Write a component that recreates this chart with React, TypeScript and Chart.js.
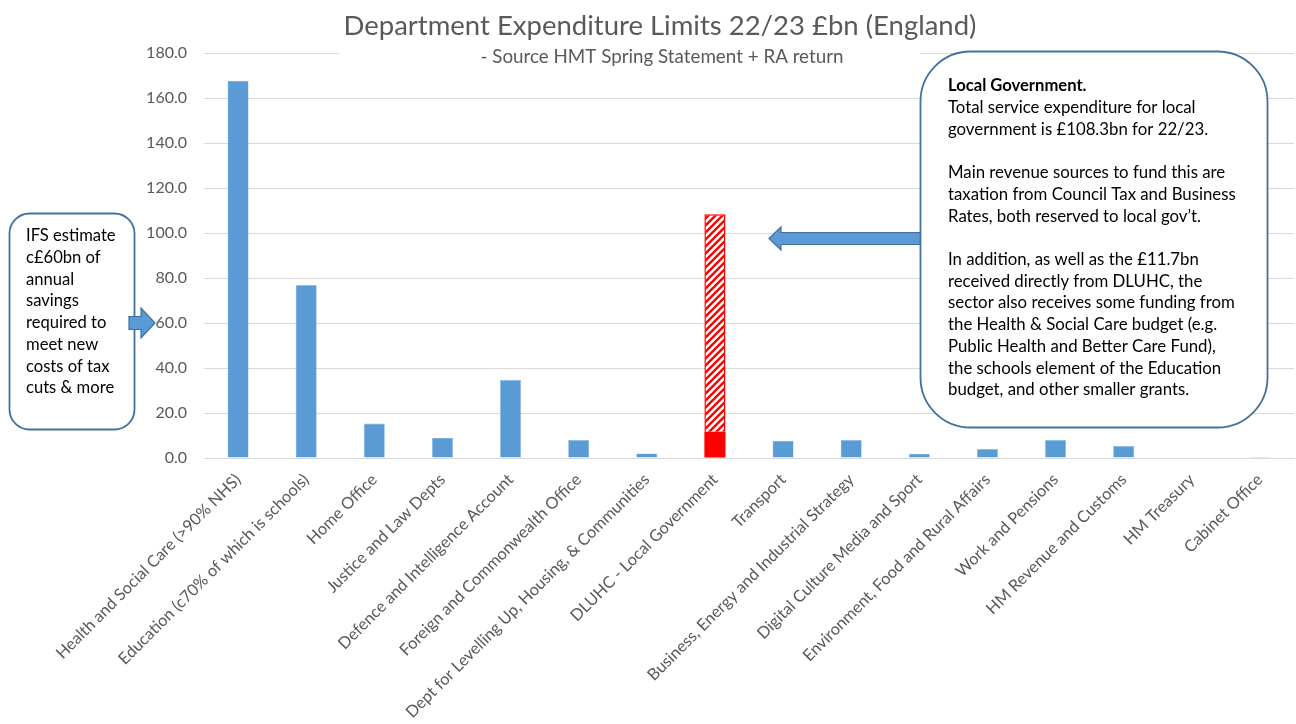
import React, { useEffect, useRef } from "react";
import { Chart, registerables } from "chart.js";

Chart.register(...registerables);

const FONT = 'Lato, "Open Sans", sans-serif';

const categories = [
  "Health and Social Care (>90% NHS)",
  "Education (c70% of which is schools)",
  "Home Office",
  "Justice and Law Depts",
  "Defence and Intelligence Account",
  "Foreign and Commonwealth Office",
  "Dept for Levelling Up, Housing, & Communities",
  "DLUHC - Local Government",
  "Transport",
  "Business, Energy and Industrial Strategy",
  "Digital Culture Media and Sport",
  "Environment, Food and Rural Affairs",
  "Work and Pensions",
  "HM Revenue and Customs",
  "HM Treasury",
  "Cabinet Office",
];

const departmentValues = [167.7, 76.9, 15.3, 9.0, 34.7, 8.1, 2.0, 0, 7.7, 8.1, 1.9, 4.0, 8.1, 5.4, 0, 0.5];
const lgDirectValues = [0, 0, 0, 0, 0, 0, 0, 11.7, 0, 0, 0, 0, 0, 0, 0, 0];
const lgTotalValues = [0, 0, 0, 0, 0, 0, 0, 108.3, 0, 0, 0, 0, 0, 0, 0, 0];

const yMin = 0;
const yMax = 180;
const yStep = 20;

const TITLE = "Department Expenditure Limits 22/23 £bn (England)";
const SUBTITLE = "- Source HMT Spring Statement + RA return";

const leftNoteLines = [
  "IFS estimate",
  "c£60bn of",
  "annual",
  "savings",
  "required to",
  "meet new",
  "costs of tax",
  "cuts & more",
];
const leftNoteTarget = 60;

const rightNoteHeading = "Local Government.";
const rightNoteLines = [
  "Total service expenditure for local",
  "government is £108.3bn for 22/23.",
  "",
  "Main revenue sources to fund this are",
  "taxation from Council Tax and Business",
  "Rates, both reserved to local gov\u2019t.",
  "",
  "In addition, as well as the £11.7bn",
  "received directly from DLUHC, the",
  "sector also receives some funding from",
  "the Health & Social Care budget (e.g.",
  "Public Health and Better Care Fund),",
  "the schools element of the Education",
  "budget, and other smaller grants.",
];

function makeHatch(): CanvasPattern | string {
  const s = 7;
  const c = document.createElement("canvas");
  c.width = s;
  c.height = s;
  const g = c.getContext("2d");
  if (!g) return "#ff0000";
  g.fillStyle = "#ffffff";
  g.fillRect(0, 0, s, s);
  g.strokeStyle = "#ff0000";
  g.lineWidth = 2.4;
  g.beginPath();
  g.moveTo(-1, s + 1);
  g.lineTo(s + 1, -1);
  g.moveTo(-1, 1);
  g.lineTo(1, -1);
  g.moveTo(s - 1, s + 1);
  g.lineTo(s + 1, s - 1);
  g.stroke();
  const p = g.createPattern(c, "repeat");
  return p || "#ff0000";
}

const annotations = {
  id: "annotations",
  afterDraw(chart: any) {
    const ctx: CanvasRenderingContext2D = chart.ctx;
    const yScale = chart.scales.y;
    ctx.save();

    // subtitle background mask
    ctx.fillStyle = "#ffffff";
    ctx.fillRect(339, 44, 581, 26);

    ctx.fillStyle = "#595959";
    ctx.textAlign = "center";
    ctx.textBaseline = "middle";
    ctx.font = `27.5px ${FONT}`;
    ctx.fillText(TITLE, 660, 26);
    ctx.font = `18.8px ${FONT}`;
    ctx.fillText(SUBTITLE, 662, 57);

    // left callout
    ctx.beginPath();
    ctx.roundRect(9.5, 213.5, 125, 216, 20);
    ctx.fillStyle = "#ffffff";
    ctx.fill();
    ctx.lineWidth = 1.8;
    ctx.strokeStyle = "#41719c";
    ctx.stroke();

    ctx.fillStyle = "#000000";
    ctx.textAlign = "left";
    ctx.font = `16.6px ${FONT}`;
    leftNoteLines.forEach((l, i) => ctx.fillText(l, 26, 236 + i * 21.7));

    // left arrow
    const ya = yScale.getPixelForValue(leftNoteTarget);
    ctx.beginPath();
    ctx.moveTo(129, ya - 6.5);
    ctx.lineTo(141, ya - 6.5);
    ctx.lineTo(141, ya - 15);
    ctx.lineTo(155, ya);
    ctx.lineTo(141, ya + 15);
    ctx.lineTo(141, ya + 6.5);
    ctx.lineTo(129, ya + 6.5);
    ctx.closePath();
    ctx.fillStyle = "#5b9bd5";
    ctx.fill();
    ctx.lineWidth = 1.2;
    ctx.strokeStyle = "#41719c";
    ctx.stroke();

    // middle arrow
    const ym = 238.5;
    ctx.beginPath();
    ctx.moveTo(769, ym);
    ctx.lineTo(781, ym - 11.5);
    ctx.lineTo(781, ym - 6);
    ctx.lineTo(921, ym - 6);
    ctx.lineTo(921, ym + 6);
    ctx.lineTo(781, ym + 6);
    ctx.lineTo(781, ym + 11.5);
    ctx.closePath();
    ctx.fillStyle = "#5b9bd5";
    ctx.fill();
    ctx.lineWidth = 1.2;
    ctx.strokeStyle = "#41719c";
    ctx.stroke();

    // right callout
    ctx.beginPath();
    ctx.roundRect(920.5, 51.5, 347, 376, 50);
    ctx.fillStyle = "#ffffff";
    ctx.fill();
    ctx.lineWidth = 1.8;
    ctx.strokeStyle = "#41719c";
    ctx.stroke();

    ctx.fillStyle = "#000000";
    ctx.font = `bold 16.6px ${FONT}`;
    ctx.fillText(rightNoteHeading, 948, 86);
    ctx.font = `16.8px ${FONT}`;
    rightNoteLines.forEach((l, i) => {
      if (l) ctx.fillText(l, 948, 107.7 + i * 21.7);
    });

    ctx.restore();
  },
};

export default function App() {
  const ref = useRef<HTMLCanvasElement | null>(null);

  useEffect(() => {
    document.body.style.margin = "0";
    const canvas = ref.current;
    if (!canvas) return;
    const hatch = makeHatch();
    const otherLG = lgTotalValues.map((t, i) => (t ? t - lgDirectValues[i] : 0));

    const chart = new Chart(canvas, {
      type: "bar",
      data: {
        labels: categories,
        datasets: [
          {
            label: "DEL",
            data: departmentValues,
            backgroundColor: "#5b9bd5",
            borderColor: "#9dc3e6",
            borderWidth: 0.6,
            barPercentage: 0.31,
            categoryPercentage: 1,
          },
          {
            label: "Direct from DLUHC",
            data: lgDirectValues,
            backgroundColor: "#ff0000",
            borderWidth: 0,
            barPercentage: 0.31,
            categoryPercentage: 1,
          },
          {
            label: "Other local government expenditure",
            data: otherLG,
            backgroundColor: hatch as any,
            borderColor: "#ff0000",
            borderWidth: 1.5,
            barPercentage: 0.31,
            categoryPercentage: 1,
          },
        ],
      },
      options: {
        responsive: false,
        animation: false,
        layout: { padding: { top: 53, right: 2, left: 0, bottom: 0 } },
        plugins: {
          legend: { display: false },
          title: { display: false },
          tooltip: { enabled: false },
        },
        scales: {
          x: {
            stacked: true,
            grid: { display: false },
            border: { color: "#d9d9d9", width: 1 },
            ticks: {
              autoSkip: false,
              maxRotation: 45,
              minRotation: 45,
              color: "#595959",
              font: { family: FONT, size: 16.3 },
              padding: 4,
            },
            afterFit(scale: any) {
              scale.height = 266;
            },
          },
          y: {
            stacked: true,
            min: yMin,
            max: yMax,
            grid: { color: "#d9d9d9", drawTicks: false },
            border: { display: false },
            ticks: {
              stepSize: yStep,
              color: "#595959",
              font: { family: FONT, size: 16 },
              padding: 17,
              callback: (v: any) => Number(v).toFixed(1),
            },
            afterFit(scale: any) {
              scale.width = 204;
            },
          },
        },
      },
      plugins: [annotations],
    });
    return () => chart.destroy();
  }, []);

  return <canvas ref={ref} width={1296} height={724} style={{ display: "block" }} />;
}
